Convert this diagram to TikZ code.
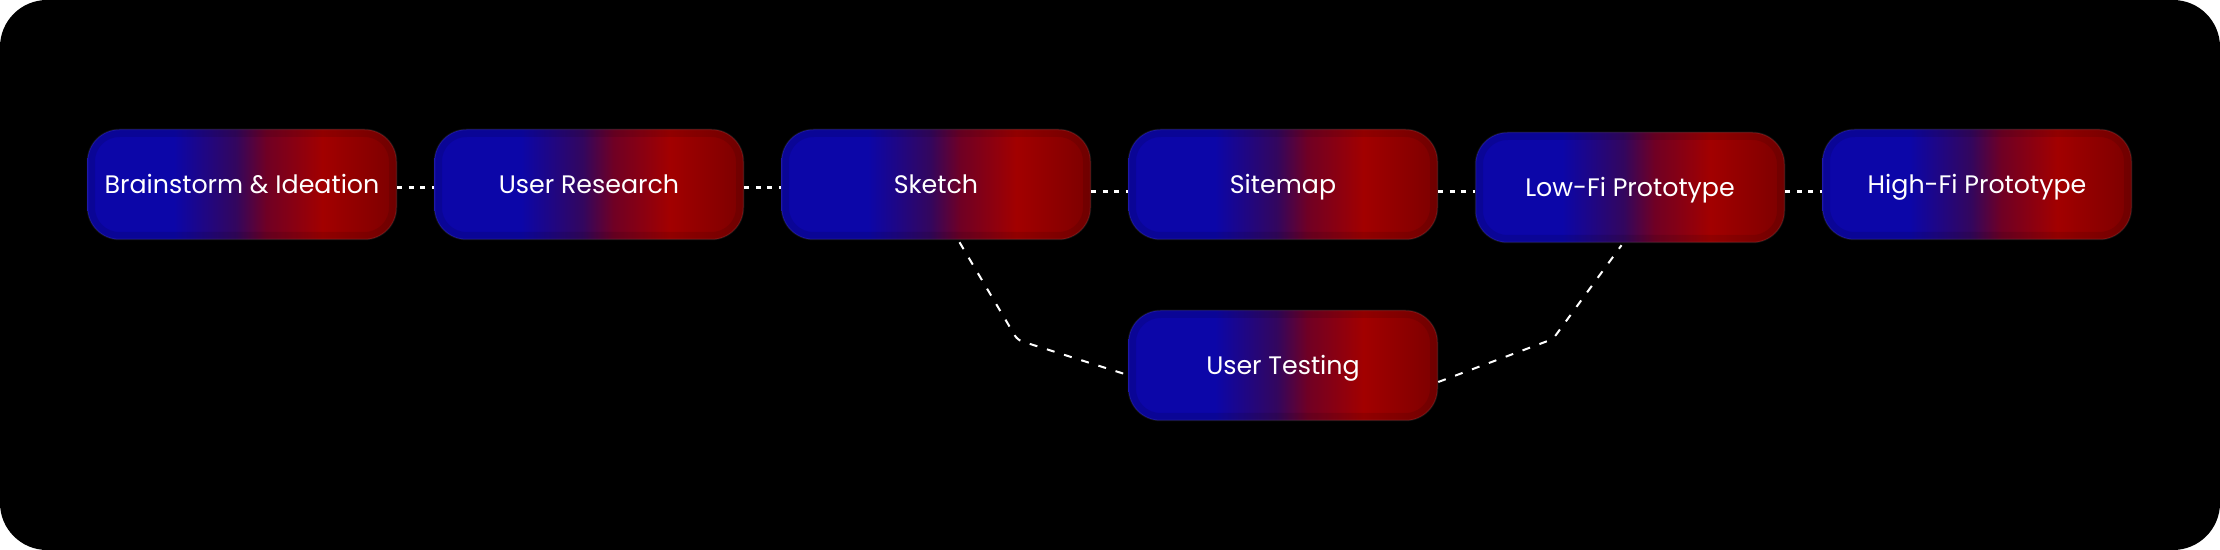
\documentclass[tikz,border=0pt]{standalone}
\usepackage{fontspec}
\setmainfont{Poppins}
\usepackage{tikz}
\usetikzlibrary{positioning,calc}
\definecolor{gradAzul}{HTML}{0C06A8}
\definecolor{gradMorado}{HTML}{33065E}
\definecolor{gradVino}{HTML}{700024}
\definecolor{gradRojo}{HTML}{A20000}
\definecolor{gradRojoOscuro}{HTML}{7C0000}
\colorlet{colFondo}{black}
\pgfdeclarehorizontalshading{stagegrad}{100bp}{color(0bp)=(gradAzul); color(25bp)=(gradAzul); color(39bp)=(gradAzul); color(49bp)=(gradMorado); color(54bp)=(gradVino); color(63bp)=(gradRojo); color(75bp)=(gradRojoOscuro); color(100bp)=(gradRojoOscuro)}

\begin{document}
\begin{tikzpicture}[
    font=\fontsize{14.4pt}{17pt}\selectfont,
    stage/.style={shade, shading=stagegrad, rounded corners=0.64cm, minimum width=6.18cm, minimum height=2.2cm,
        draw=white, draw opacity=0.08, line width=0.03cm, text=white, inner sep=0pt, text height=0.98em, text depth=0pt,
        path picture={
            \draw[black, opacity=0.1, line width=0.3cm, rounded corners=0.64cm] (path picture bounding box.south west) rectangle (path picture bounding box.north east);
        }},
    dotline/.style={white, line width=0.06cm, dash pattern=on 0.1cm off 0.13cm},
    dashline/.style={white, line width=0.04cm, dash pattern=on 0.16cm off 0.2cm, rounded corners=0.1cm}
]
    % Fondo
    \fill[white] (0,0) rectangle (44.4,11);
    \fill[colFondo, rounded corners=0.94cm] (0,0) rectangle (44.4,11);
    \useasboundingbox (0,0) rectangle (44.4,11);

    % Etapas
    \node[stage] (brain) at (4.84,7.31) {Brainstorm \& Ideation};
    \node[stage] (research) at (11.78,7.31) {User Research};
    \node[stage] (sketch) at (18.72,7.31) {Sketch};
    \node[stage] (sitemap) at (25.66,7.31) {Sitemap};
    \node[stage] (lowfi) at (32.60,7.25) {Low-Fi Prototype};
    \node[stage] (highfi) at (39.54,7.31) {High-Fi Prototype};
    \node[stage] (testing) at (25.66,3.69) {User Testing};

    % Conexiones punteadas
    \draw[dotline] ([yshift=-0.07cm]brain.east) -- ([yshift=-0.07cm]research.west);
    \draw[dotline] ([yshift=-0.07cm]research.east) -- ([yshift=-0.07cm]sketch.west);
    \draw[dotline] ([yshift=-0.15cm]sketch.east) -- ([yshift=-0.15cm]sitemap.west);
    \draw[dotline] ([yshift=-0.15cm]sitemap.east) -- ([yshift=-0.09cm]lowfi.west);
    \draw[dotline] ([yshift=-0.09cm]lowfi.east) -- ([yshift=-0.15cm]highfi.west);

    % Ciclo de pruebas
    \coordinate (bendL) at (20.35,4.20);
    \coordinate (bendR) at (31.06,4.22);
    \draw[dashline] ([xshift=0.47cm,yshift=-0.04cm]sketch.south) -- (bendL) -- ([yshift=-0.19cm]testing.west);
    \draw[dashline] ([yshift=-0.33cm]testing.east) -- (bendR) -- ([xshift=-0.17cm,yshift=-0.04cm]lowfi.south);
\end{tikzpicture}
\end{document}
